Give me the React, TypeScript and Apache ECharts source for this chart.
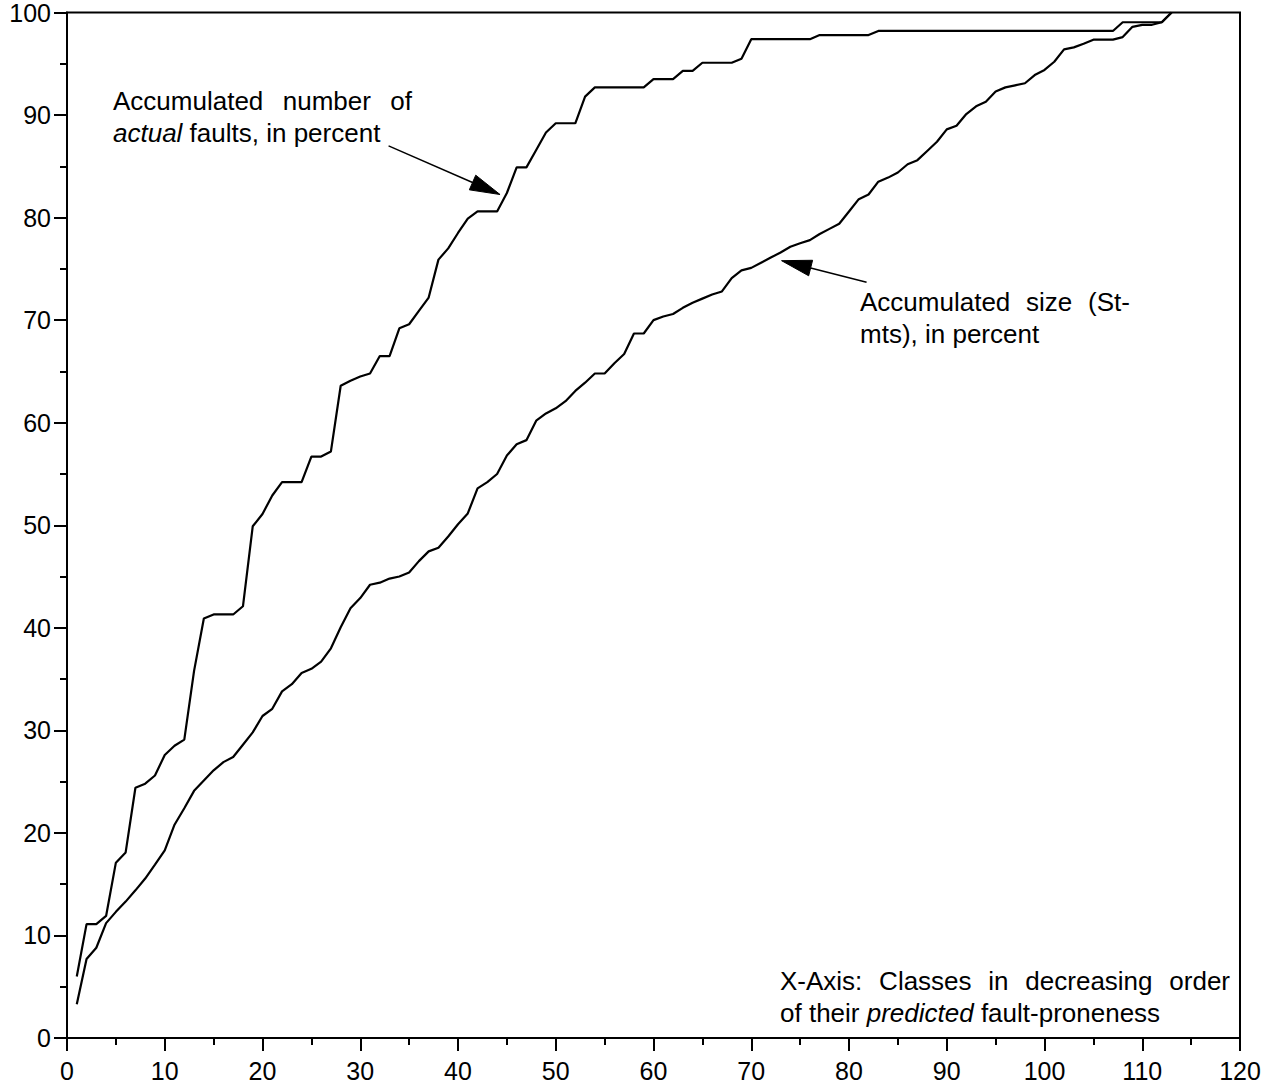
import React, { useEffect, useRef } from "react";
import * as echarts from "echarts";

// Accumulated number of actual faults (percent), class 1..113
const actualFaultsPct = [
  6.0, 11.1, 11.1, 11.9, 17.1, 18.1, 24.4, 24.8, 25.6, 27.6,
  28.5, 29.1, 35.8, 40.9, 41.3, 41.3, 41.3, 42.1, 49.9, 51.1,
  52.9, 54.2, 54.2, 54.2, 56.7, 56.7, 57.2, 63.6, 64.1, 64.5,
  64.8, 66.5, 66.5, 69.2, 69.6, 70.9, 72.2, 75.9, 77.0, 78.5,
  79.9, 80.6, 80.6, 80.6, 82.4, 84.9, 84.9, 86.6, 88.3, 89.2,
  89.2, 89.2, 91.8, 92.7, 92.7, 92.7, 92.7, 92.7, 92.7, 93.5,
  93.5, 93.5, 94.3, 94.3, 95.1, 95.1, 95.1, 95.1, 95.5, 97.4,
  97.4, 97.4, 97.4, 97.4, 97.4, 97.4, 97.8, 97.8, 97.8, 97.8,
  97.8, 97.8, 98.2, 98.2, 98.2, 98.2, 98.2, 98.2, 98.2, 98.2,
  98.2, 98.2, 98.2, 98.2, 98.2, 98.2, 98.2, 98.2, 98.2, 98.2,
  98.2, 98.2, 98.2, 98.2, 98.2, 98.2, 98.2, 99.05, 99.05, 99.05,
  99.05, 99.05, 100,
];

// Accumulated size (Stmts, percent), class 1..113
const sizeStmtsPct = [
  3.3, 7.7, 8.8, 11.2, 12.3, 13.3, 14.4, 15.55, 16.9, 18.3,
  20.8, 22.4, 24.1, 25.1, 26.1, 26.9, 27.4, 28.6, 29.8, 31.4,
  32.1, 33.8, 34.5, 35.6, 36.0, 36.7, 38.0, 40.05, 41.9, 42.9,
  44.2, 44.4, 44.8, 45.0, 45.4, 46.5, 47.45, 47.8, 48.9, 50.1,
  51.15, 53.6, 54.2, 55.0, 56.8, 57.9, 58.3, 60.2, 60.9, 61.4,
  62.1, 63.1, 63.9, 64.8, 64.8, 65.8, 66.7, 68.7, 68.7, 70.0,
  70.35, 70.6, 71.2, 71.7, 72.1, 72.5, 72.8, 74.1, 74.85, 75.1,
  75.6, 76.1, 76.6, 77.15, 77.5, 77.8, 78.4, 78.9, 79.4, 80.6,
  81.8, 82.25, 83.5, 83.9, 84.4, 85.2, 85.6, 86.5, 87.4, 88.6,
  88.95, 90.1, 90.85, 91.3, 92.3, 92.7, 92.9, 93.1, 93.9, 94.4,
  95.2, 96.4, 96.6, 96.95, 97.35, 97.35, 97.35, 97.6, 98.6, 98.8,
  98.8, 99.05, 100,
];

// Annotation texts
const actualLabelLines = ["Accumulated number of", "{i|actual} faults, in percent"];
const sizeLabelLines = ["Accumulated size (St-", "mts), in percent"];
const xAxisNoteLines = ["X-Axis: Classes in decreasing order", "of their {i|predicted} fault-proneness"];

// Arrow annotations in data space: [from], [to]
const actualArrow = [[32.9, 87.0], [44.3, 82.25]];
const sizeArrow = [[81.8, 73.7], [73.1, 75.8]];

const FONT = "'Liberation Sans', Arial, Helvetica, sans-serif";
const ANNOT_SIZE = 26;

export default function App() {
  const ref = useRef<HTMLDivElement>(null);

  useEffect(() => {
    const chart = echarts.init(ref.current!, null, { renderer: "svg" });
    const toPairs = (vals: number[]) => vals.map((v, i) => [i + 1, v]);
    const axisCommon = {
      type: "value",
      min: 0,
      interval: 10,
      axisLine: { show: true, onZero: false, lineStyle: { color: "#000", width: 2 } },
      axisTick: { show: true, inside: false, length: 13, lineStyle: { color: "#000", width: 2 } },
      minorTick: { show: true, splitNumber: 2, length: 7, lineStyle: { color: "#000", width: 2 } },
      splitLine: { show: false },
      minorSplitLine: { show: false },
    };
    chart.setOption({
      animation: false,
      backgroundColor: "#fff",
      grid: {
        left: 67,
        right: 33,
        top: 11,
        bottom: 48,
        show: true,
        borderColor: "#000",
        borderWidth: 2,
        backgroundColor: "transparent",
      },
      xAxis: {
        ...axisCommon,
        max: 120,
        axisLabel: { color: "#000", fontSize: 25, fontFamily: FONT, margin: 20 },
      },
      yAxis: {
        ...axisCommon,
        max: 100,
        axisLabel: { color: "#000", fontSize: 25, fontFamily: FONT, margin: 16 },
      },
      series: [
        {
          type: "line",
          name: "actual",
          data: toPairs(actualFaultsPct),
          symbol: "none",
          lineStyle: { color: "#000", width: 2.2 },
          z: 3,
        },
        {
          type: "line",
          name: "size",
          data: toPairs(sizeStmtsPct),
          symbol: "none",
          lineStyle: { color: "#000", width: 2.2 },
          z: 3,
        },
      ],
    });

    const px = (pt: number[]) => chart.convertToPixel({ gridIndex: 0 }, pt) as number[];
    const arrow = (from: number[], to: number[]) => {
      const a = px(from);
      const b = px(to);
      const dx = b[0] - a[0];
      const dy = b[1] - a[1];
      const len = Math.sqrt(dx * dx + dy * dy);
      const ux = dx / len;
      const uy = dy / len;
      const L = 30;
      const W = 8;
      const bx = b[0] - ux * L;
      const by = b[1] - uy * L;
      return [
        {
          type: "line",
          shape: { x1: a[0], y1: a[1], x2: bx, y2: by },
          style: { stroke: "#000", lineWidth: 1.5 },
          z: 10,
        },
        {
          type: "polygon",
          shape: {
            points: [
              [b[0], b[1]],
              [bx - uy * W, by + ux * W],
              [bx + uy * W, by - ux * W],
            ],
          },
          style: { fill: "#000", stroke: "#000", lineWidth: 1 },
          z: 10,
        },
      ];
    };

    const textLine = (text: string, x: number, y: number) => ({
      type: "text",
      x,
      y,
      z: 10,
      style: {
        text,
        fill: "#000",
        fontSize: ANNOT_SIZE,
        fontFamily: FONT,
        verticalAlign: "middle",
        align: "left",
        rich: {
          i: { fontStyle: "italic", fontSize: ANNOT_SIZE, fontFamily: FONT, fill: "#000" },
        },
      },
    });

    // Justified line: words spread between left and right edges
    const canvas = document.createElement("canvas");
    const ctx = canvas.getContext("2d")!;
    const parseWords = (line: string) =>
      line.split(" ").map((w) => {
        const m = w.match(/^\{i\|(.*)\}$/);
        return m ? { t: m[1], italic: true } : { t: w, italic: false };
      });
    const justified = (line: string, left: number, right: number, y: number) => {
      const words = parseWords(line);
      const widths = words.map((w) => {
        ctx.font = `${w.italic ? "italic " : ""}${ANNOT_SIZE}px ${FONT}`;
        return ctx.measureText(w.t).width;
      });
      const total = widths.reduce((s, v) => s + v, 0);
      const gap = words.length > 1 ? (right - left - total) / (words.length - 1) : 0;
      let x = left;
      return words.map((w, i) => {
        const el = {
          type: "text",
          x,
          y,
          z: 10,
          style: {
            text: w.t,
            fill: "#000",
            fontSize: ANNOT_SIZE,
            fontFamily: FONT,
            fontStyle: w.italic ? "italic" : "normal",
            verticalAlign: "middle",
            align: "left",
          },
        };
        x += widths[i] + gap;
        return el;
      });
    };

    chart.setOption({
      graphic: [
        ...justified(actualLabelLines[0], 113, 412, 101),
        textLine(actualLabelLines[1], 113, 133),
        ...justified(sizeLabelLines[0], 860, 1130, 302),
        textLine(sizeLabelLines[1], 860, 334),
        ...justified(xAxisNoteLines[0], 780, 1230, 981),
        textLine(xAxisNoteLines[1], 780, 1013),
        ...arrow(actualArrow[0], actualArrow[1]),
        ...arrow(sizeArrow[0], sizeArrow[1]),
      ],
    });

    return () => chart.dispose();
  }, []);

  return (
    <div
      ref={ref}
      style={{ position: "fixed", left: 0, top: 0, width: 1273, height: 1086, background: "#fff" }}
    />
  );
}
